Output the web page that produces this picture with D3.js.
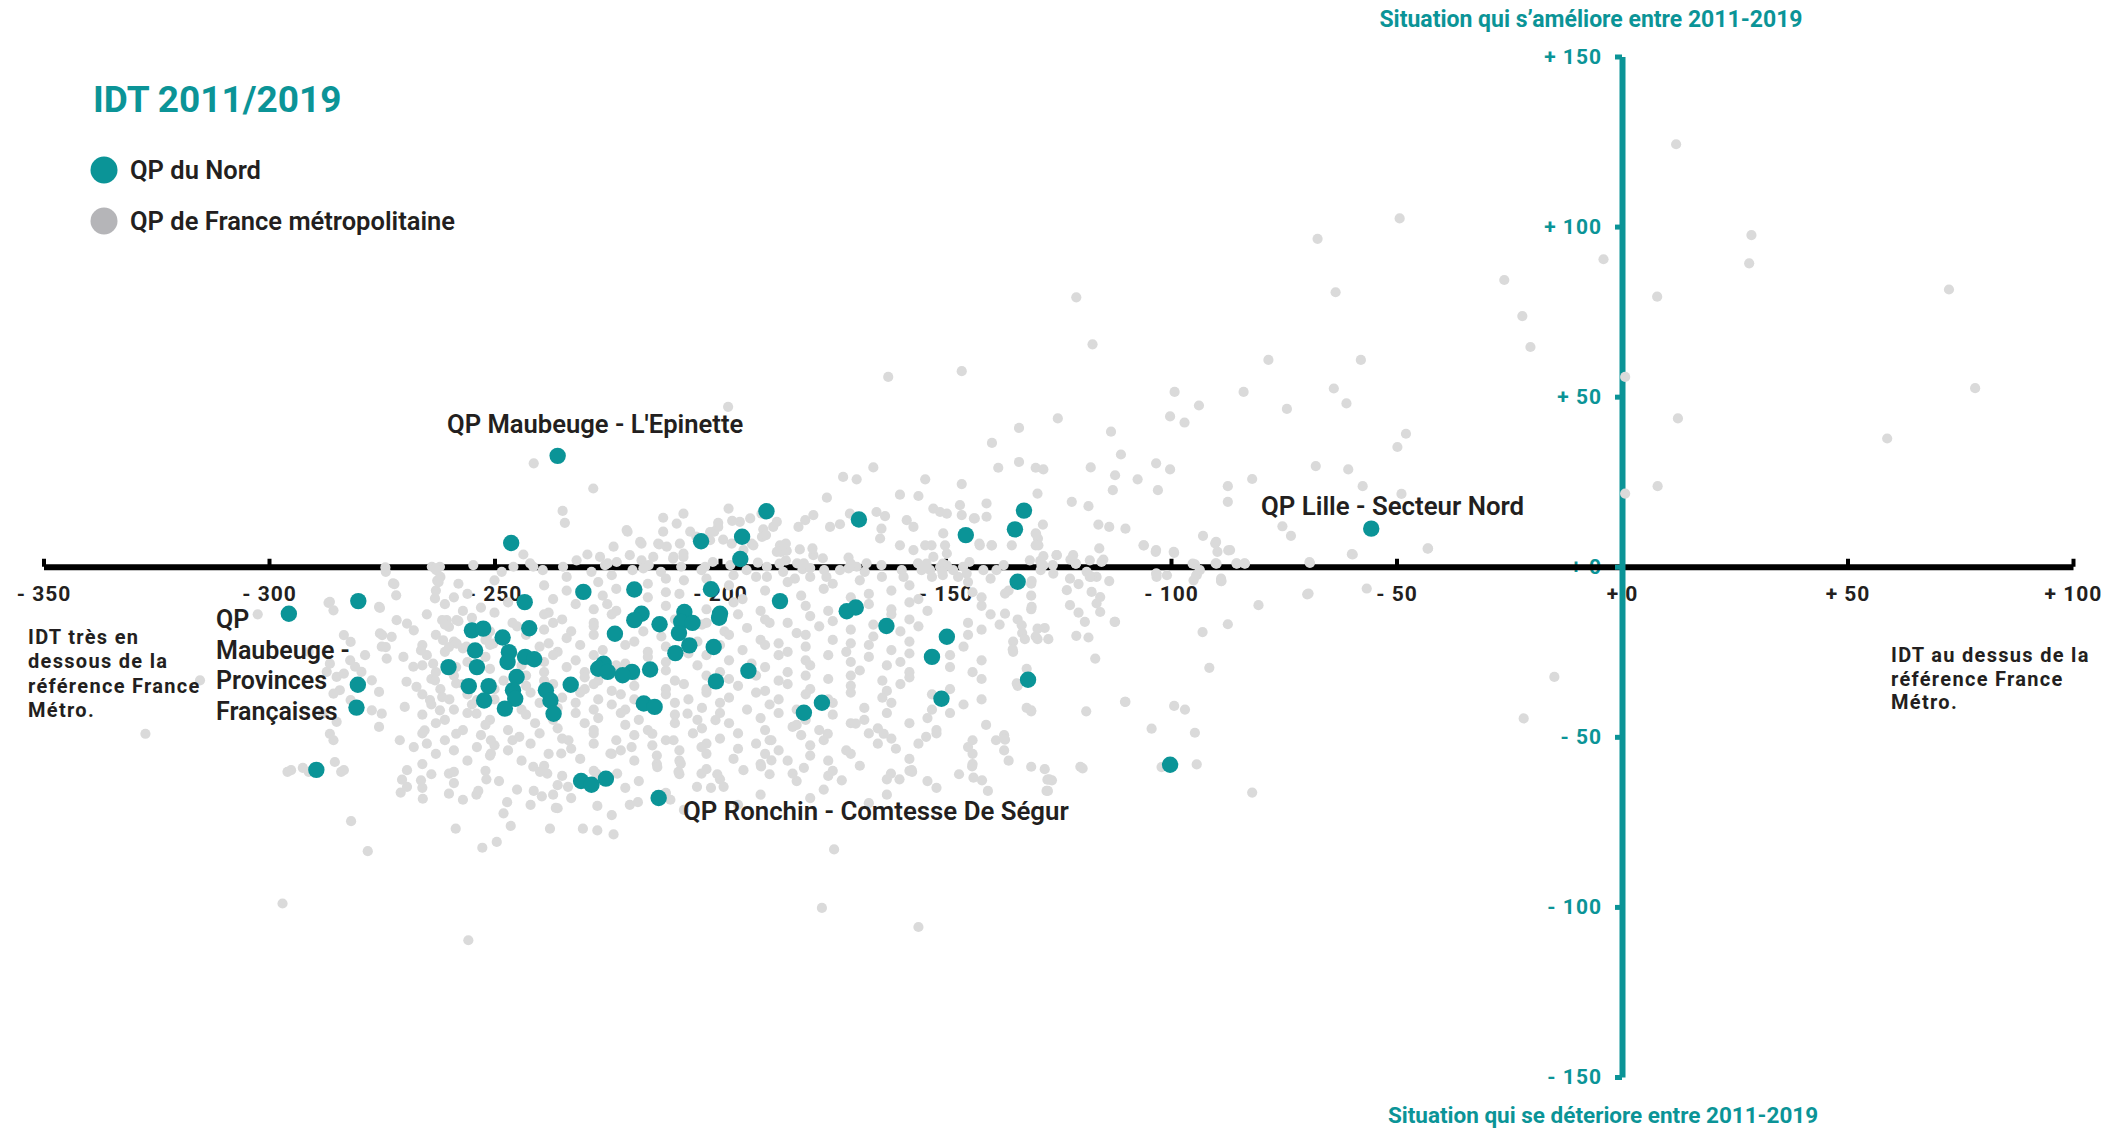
<!DOCTYPE html>
<html><head><meta charset="utf-8">
<script src="https://cdn.jsdelivr.net/npm/d3@7"></script>
<style>
html,body{margin:0;padding:0;background:#fff;}
svg{display:block;font-family:Roboto,"Noto Sans",sans-serif;}
</style></head><body>
<svg id="chart" width="2121" height="1131"></svg>
<script>
const chartTitle = "IDT 2011/2019";
const seriesNames = ["QP du Nord", "QP de France métropolitaine"];
const xTicks = [-350, -300, -250, -200, -150, -100, -50, 0, 50, 100];
const xTickLabels = ["- 350", "- 300", "- 250", "- 200", "- 150", "- 100", "- 50", "+ 0", "+ 50", "+ 100"];
const yTicks = [150, 100, 50, 0, -50, -100, -150];
const yTickLabels = ["+ 150", "+ 100", "+ 50", "+ 0", "- 50", "- 100", "- 150"];
const topNote = "Situation qui s’améliore entre 2011-2019";
const bottomNote = "Situation qui se déteriore entre 2011-2019";
const leftNote = ["IDT très en", "dessous de la", "référence France", "Métro."];
const rightNote = ["IDT au dessus de la", "référence France", "Métro."];

// QP du Nord  [IDT gap, evolution 2011-2019]
const nordPoints = [
[-236,32.6],[-246.3,7],[-189.7,16.3],[-169.2,13.9],[-204.2,7.5],[-195.1,8.8],[-195.5,2.3],[-145.5,9.3],
[-134.6,11],[-132.6,16.5],[-134,-4.4],[-55.6,11.2],[-100.2,-58.2],[-280.2,-10.1],[-295.6,-13.8],[-280.3,-34.7],
[-280.6,-41.4],[-289.5,-59.7],[-230.3,-7.4],[-219,-6.7],[-202,-6.6],[-243.3,-10.4],[-186.7,-10.1],[-171.9,-13.1],
[-169.9,-12],[-200,-13.8],[-200.2,-15],[-207.9,-13.3],[-217.4,-13.8],[-219,-15.7],[-213.4,-16.9],[-163.1,-17.4],
[-208.6,-16.2],[-206.1,-16.5],[-255,-18.7],[-252.5,-18.2],[-242.3,-18.1],[-248.2,-20.8],[-223.3,-19.7],[-209.1,-19.5],
[-206.8,-23.1],[-201.4,-23.6],[-209.9,-25.4],[-149.7,-20.6],[-153,-26.5],[-131.7,-33.2],[-150.9,-38.8],[-177.4,-40],
[-181.4,-42.9],[-193.7,-30.6],[-200.9,-33.7],[-215.5,-30.2],[-219.5,-30.9],[-221.6,-31.9],[-225.8,-28.5],[-227,-30],
[-224.9,-30.9],[-233.1,-34.7],[-238.6,-36.3],[-237.6,-39.3],[-236.9,-43.2],[-216.9,-40.2],[-214.5,-41.2],[-260.2,-29.5],
[-254.3,-24.6],[-253.9,-29.5],[-255.7,-35.1],[-251.3,-35.1],[-252.3,-39.3],[-246.8,-25.1],[-247.1,-28],[-243.2,-26.5],
[-241.2,-27.2],[-245.1,-32.4],[-245.9,-36.3],[-245.4,-38.8],[-247.7,-41.7],[-230.8,-63],[-228.5,-64.1],[-225.3,-62.3],
[-213.6,-68]
];

// QP de France métropolitaine
const francePoints = [
// upper outliers
[12,124.2],[-49.3,102.4],[-67.5,96.4],[28.7,97.5],[28.2,89.2],[-4.1,90.4],[-26.1,84.3],[-63.5,80.7],[7.8,79.4],[72.5,81.5],
[-121,79.2],[-22.1,73.7],[-117.4,65.4],[-20.3,64.6],[-78.4,60.8],[-57.9,60.8],[-146.4,57.5],[-162.7,55.8],[0.7,55.8],[78.3,52.5],
[-63.9,52.4],[-61.1,48],[-74.3,46.4],[-83.9,51.4],[-99.2,51.4],[-93.8,47.4],[-100.2,44.2],[-97,42.4],[-125.1,43.6],[-133.7,40.8],
[-113.3,39.7],[-47.9,39.1],[-49.8,35.2],[12.4,43.6],[58.8,37.7],[0.7,21.5],[7.9,23.7],[-198.2,47],[-139.7,36.4],[-111.1,33],
[-133.7,30.8],[-130,29.1],[-128.3,28.6],[-117.8,29.2],[-103.3,30.4],[-100.2,28.6],[-112.4,26.9],[-107.4,25.7],[-112.9,22.5],[-102.9,22.5],
[-129.6,21.5],[-122,19.1],[-118.3,17.8],[-67.9,29.6],[-82,25.8],[-60.7,28.6],[-87.4,23.7],[-57.5,23.7],[-48.9,21.4],[-87.4,19.1],
[-128.4,12.4],[-116.1,12.4],[-113.7,11.7],[-110.1,11.2],[-75.3,11.9],[-73.4,9.1],[-92.9,9.1],[-90.2,6.9],[-89.7,4.4],[-86.9,4.9],
[-106.1,6.3],[-103.3,4.9],[-99.3,4.1],[-115.9,5.4],[-115,2.1],[-122.3,2.1],[-121.1,0.9],[-125.3,3.4],[-128.3,3.1],[-130,9.8],
[-129.5,8.3],[-130,6.3],[-135.3,6.3],[-43,5.4],[-59.7,3.6],[-69.3,1.4],[-94.7,0.7],[-90.1,1],[-85.5,1],[-83.7,1],
[-128.7,0.4],[-103.3,-2],[-94.4,-2.5],[-88.9,-3.5],[-117.8,-2.8],
// band just above the axis
[-138.3,29.1],[-166,29.2],[-172.7,26.4],[-169.7,25.7],[-154.5,25.7],[-146.4,24.3],[-176.3,20.3],[-160.1,21.2],[-156,20.8],[-140.9,18.6],
[-146.8,18.1],[-152.7,17.1],[-151.2,16.1],[-149.7,15.6],[-165.3,16.1],[-163.4,14.9],[-158.6,13.7],[-157.1,11.7],[-164.2,11.2],[-164.5,8.3],
[-140.9,14.7],[-146.4,15.2],[-143.5,14.2],[-129.9,9.6],[-129.4,6.3],[-125.4,3.4],[-121.7,3.4],[-118,1.9],[-182.6,11.7],[-181.1,13.7],
[-179.3,15.2],[-175.6,11.7],[-173.4,12.5],[-171.2,15.6],[-160.1,6.3],[-157.1,4.9],[-154.5,6.3],[-153.1,6.3],[-150.5,9.8],[-150.1,6.3],
[-149.7,3.9],[-142.4,6.3],[-139.8,6.3],[-190.8,15.6],[-193.3,14.2],[-195.6,13.2],[-187.4,13.2],[-188.2,11.7],[-190.4,11],[-200.4,11.7],
[-201.3,10.3],[-198.1,17.1],[-197.4,6.8],[-202.2,7.8],[-192.6,6.3],[-194.8,4.9],[-186.7,6.3],[-185.2,4.7],[-182.3,5.1],[-179.3,3.4],
[-208.1,15.6],[-209.6,12.7],[-206.6,10.3],[-205.2,8.8],[-213.7,6.8],[-211.8,5.9],[-217.7,7.3],[-220.7,10.8],[-212.6,10.3],[-220,3.4],
[-226.6,2.9],[-223.6,5.9],[-214.8,2.9],[-210.3,2.9],[-208.1,3.9],[-222.9,1.4],[-217.4,1.9],[-151.2,-0.1],[-149.7,0.4],[-173.4,-1],
[-169.7,0],[-167.5,1],[-177.2,2.5],[-179.5,5.4],[-185.4,6.8],[-186.5,4.4],[-182.9,1],[-181.7,-0.7],[-180,-0.4],[-190.7,8.8],
[-189.8,9.3],[-197.3,13.5],[-200.4,12.9],[-202.2,10.2],[-199.3,8],[-193,6.8],[-195.6,1.9],[-191.6,1.2],[-187.4,4.4],[-185.4,1.9],
[-186.8,0.9],[-201.6,1.4],[-203.3,0],[-150.6,0.9],[-150.6,-2.5],[-154.2,0.9],[-155.3,-1],[-152.7,2.9],[-153.4,-1],[-148.3,-1],
[-147.2,-3],[-145.3,-2],[-144.7,1.4],[-131.3,1.9],[-129,1.7],[-126.1,-2],[-122.4,-3.5],[-118.7,-1.5],[-116.5,-3],[-103.2,-3],
[-100.9,-2.5],[-95.2,0.9],[-171.5,2.7],[-171,0.9],[-138.7,-1],[-117.7,-3],[-143.7,14.2],[-142.5,6.8],[-139.7,6.3],
[-241.3,30.4],[-228.1,23],[-234.9,16.4],[-234.4,12.9],[-212.6,14.4],[-220.5,10.3],[-217.4,6.8],[-213.5,6.6],[-208.9,6.8],[-205.2,8.8],
[-243.6,3.6],[-241.4,0],[-229.4,3.6],[-231.8,1.9],[-225.5,0.5],[-210.4,2.4],[-217,-0.5],[-245.8,0],[-274.2,-0.2],[-263.9,0],
[-262.1,0],[-208.1,2.9],
// on the axis
[-262.9,-1],[-254.7,0.5],[-248.4,-1.5],[-242.1,1],[-239.3,-1],[-234.8,0],[-228.5,-1.5],[-224.9,1],[-219.4,-1],[-215.8,0.5],
[-213.1,-1.5],[-208.6,0],[-204.1,-1],[-197.7,0.5],[-194.1,-1],[-189.6,0],[-186,-1.5],[-181.4,1],[-176.9,-1],[-171.5,-0.5],
[-167.9,-1.5],[-164.2,0.5],[-159.7,-1],[-156.1,1],[-150.7,-1.5],[-146.1,0],[-141.6,-1],[-137.1,0.5],[-128.9,-1],[-126.2,0.5],
[-159.3,-3],[-164.1,-3],[-176.4,-3],[-183.4,-3.5],[-189.6,-3],[-197,-2.5],[-203,-3.5],
// dense core
[-262,-3],[-258,-5],[-250,-4],[-239,-5.5],[-234,-3],[-227,-4.5],[-224,-2.5],[-216,-5],[-212,-3.5],[-208,-4],[-198,-5.5],[-192,-3],[-185,-4.5],[-180,-3],[-175,-5],[-169,-4],[-158,-5.5],[-153,-3],[-145,-4.5],[-140,-3.5],[-131,-5],
[-263,-7],[-259,-9],[-256,-8],[-237,-9.5],[-234,-7],[-226,-8.5],[-223,-6.5],[-216,-9],[-212,-7.5],[-209,-8],[-195,-9.5],[-190,-7],[-182,-8.5],[-177,-6.5],[-171,-9],[-167,-8],[-162,-7],[-156,-9.5],[-144,-7.5],[-142,-9],[-136,-7],[-131,-8.5],
[-261,-11],[-257,-13],[-253,-12],[-247,-10.5],[-238,-13.5],[-232,-11],[-228,-12.5],[-225,-11],[-223,-13],[-212,-11.5],[-203,-12.5],[-197,-10.5],[-191,-13],[-181,-11.5],[-176,-13],[-167,-11],[-162,-12.5],[-158,-10.5],[-154,-13],[-142,-11.5],[-131,-12.5],
[-265,-14],[-258,-16],[-255,-15],[-250,-13.5],[-246,-16.5],[-239,-14],[-235,-15.5],[-228,-16.5],[-224,-14],[-210,-15.5],[-203,-16.5],[-196,-14],[-190,-15.5],[-185,-16.5],[-180,-14.5],[-175,-16],[-162,-14],[-158,-15.5],[-145,-16.5],[-140,-14],[-134,-15.5],
[-261,-17],[-251,-19],[-245,-17.5],[-239,-18.5],[-237,-16.5],[-233,-19],[-228,-17.5],[-217,-19],[-204,-17],[-199,-19],[-194,-18],[-189,-16.5],[-183,-19.5],[-178,-17.5],[-171,-18.5],[-166,-17],[-160,-19],[-156,-17.5],[-142,-18.5],[-138,-17],[-133,-19.5],[-128,-18],
[-263,-20],[-259,-22],[-252,-21.5],[-243,-20],[-238,-22.5],[-234,-21],[-228,-20],[-219,-22],[-213,-20.5],[-205,-22],[-198,-20],[-191,-21.5],[-187,-22.5],[-181,-20],[-175,-21.5],[-171,-22.5],[-166,-20.5],[-158,-22],[-145,-20],[-135,-22],[-130,-20.5],
[-266,-23],[-261,-25],[-257,-24],[-251,-23],[-246,-25.5],[-240,-23.5],[-236,-25],[-231,-23],[-226,-24.5],[-221,-23],[-216,-25],[-212,-23.5],[-207,-25.5],[-200,-23],[-195,-24.5],[-190,-23],[-185,-25],[-181,-23.5],[-172,-25],[-167,-23],[-162,-24.5],[-158,-25.5],[-146,-23.5],[-135,-25],
[-265,-26],[-256,-28],[-252,-26.5],[-239,-28],[-237,-26],[-232,-27.5],[-228,-26],[-221,-28.5],[-216,-26.5],[-212,-28],[-203,-26],[-198,-27.5],[-193,-28.5],[-187,-26],[-181,-27.5],[-176,-26],[-171,-28],[-167,-26.5],[-160,-28],[-149,-26],[-142,-27.5],
[-266,-29],[-263,-31],[-251,-30],[-244,-29],[-239,-31],[-234,-29.5],[-230,-31],[-223,-29],[-212,-30.5],[-205,-29],[-200,-31],[-190,-29.5],[-185,-31],[-180,-29],[-169,-30.5],[-163,-29],[-158,-31],[-149,-29.5],[-144,-31],
[-264,-33],[-259,-32],[-248,-33.5],[-243,-32],[-239,-33.5],[-230,-32.5],[-227,-33.5],[-219,-32],[-210,-33.5],[-203,-32],[-198,-33],[-192,-32],[-187,-33.5],[-181,-32],[-176,-33],[-171,-32],[-164,-33.5],[-158,-32.5],[-142,-33],
[-262,-36],[-257,-34.5],[-250,-36],[-243,-35],[-237,-34.5],[-230,-36],[-228,-34.5],[-224,-36.5],[-219,-35],[-212,-36],[-208,-34.5],[-203,-36],[-196,-35],[-190,-36.5],[-185,-34.5],[-180,-36],[-171,-35],[-163,-36.5],[-160,-34.5],[-149,-36],[-134,-35],
[-266,-37.5],[-260,-39],[-256,-37.5],[-250,-39],[-242,-37],[-235,-38.5],[-231,-37],[-227,-39],[-222,-37.5],[-219,-39],[-212,-37.5],[-207,-39],[-203,-37],[-198,-38.5],[-192,-37],[-187,-39],[-181,-37.5],[-176,-39],[-171,-37],[-164,-38.5],[-153,-37.5],[-142,-39],
[-264,-40.5],[-259,-42],[-255,-40.5],[-244,-42],[-240,-40],[-236,-41.5],[-232,-40],[-228,-42],[-224,-40.5],[-221,-42],[-210,-40],[-204,-41.5],[-200,-40],[-194,-42],[-189,-40.5],[-183,-42],[-175,-40],[-168,-41.5],[-162,-40],[-153,-42],[-146,-40.5],[-132,-41.5],
[-266,-43.5],[-261,-45],[-256,-43],[-251,-45],[-243,-43.5],[-237,-45],[-232,-43],[-227,-44.5],[-222,-43],[-218,-45],[-210,-43.5],[-205,-45],[-200,-43],[-191,-44.5],[-187,-43],[-181,-45],[-175,-43.5],[-168,-45],[-163,-43],[-154,-44.5],[-149,-43],
[-263,-46],[-257,-48],[-252,-46.5],[-247,-48],[-241,-46],[-236,-47.5],[-230,-46],[-228,-48],[-221,-46.5],[-216,-48],[-210,-46],[-204,-47.5],[-198,-46],[-190,-48],[-183,-46.5],[-178,-48],[-171,-46],[-165,-47.5],[-158,-46],[-152,-48],[-141,-46.5],
[-266,-49],[-261,-51],[-253,-49.5],[-246,-51],[-240,-49],[-235,-50.5],[-228,-49],[-223,-51],[-219,-49.5],[-212,-51],[-206,-49],[-200,-50.5],[-196,-49],[-189,-51],[-182,-49.5],[-177,-51],[-167,-49],[-162,-50.5],[-152,-49],[-144,-51],[-137,-49.5],
[-265,-52],[-259,-54],[-250,-52.5],[-247,-54],[-242,-52],[-233,-53.5],[-228,-52],[-222,-54],[-215,-52.5],[-209,-54],[-203,-52],[-196,-53.5],[-192,-52],[-187,-54],[-180,-52.5],[-172,-54],[-165,-52],[-161,-53.5],[-156,-52],[-137,-54],
[-263,-55],[-256,-57],[-251,-55.5],[-244,-57],[-238,-55],[-231,-56.5],[-224,-55],[-219,-57],[-214,-55.5],[-209,-57],[-203,-55],[-197,-56.5],[-190,-55],[-185,-57],[-180,-55.5],[-176,-57],[-171,-55],[-158,-56.5],[-144,-55],[-136,-57],
[-266,-58],[-252,-60],[-239,-58.5],[-228,-60],[-214,-58],[-203,-59.5],[-191,-58],[-175,-60],[-169,-58.5],[-158,-60],[-144,-58],[-128,-59.5],
[-264,-61],[-249,-63],[-235,-61.5],[-218,-63],[-209,-61],[-200,-62.5],[-189,-61],[-183,-63],[-176,-61.5],[-154,-63],[-147,-61],
[-266,-65],[-254,-67],[-245,-65.5],[-237,-67],[-221,-65],[-212,-66.5],[-202,-65],[-191,-67],[-177,-65.5],[-163,-67],[-152,-65],
[-257,-68.5],[-242,-70],[-233,-68],[-220,-70],[-211,-68.5],[-196,-70],[-180,-68],[-167,-69.5],
[-248,-72.5],[-236,-71],[-224,-73],[-208,-71.5],
// left edge
[-272.2,-5.1],[-262.7,-4.1],[-263.2,-9.3],[-286.8,-10.6],[-275.4,-12.1],[-302.5,-14],[-275.4,-19.6],[-272.8,-20.6],[-282,-27.5],[-280.9,-29.4],
[-287.2,-30.9],[-285,-32.4],[-284.3,-36.3],[-275,-23.5],[-273.9,-27],[-270.2,-26.5],[-268,-29.4],[-269.5,-33.8],[-267.3,-35.3],[-260.6,-15.7],
[-258.4,-15.7],[-258.4,-22.6],[-256.2,-23.5],[-263.6,-28.5],[-261.4,-21.6],[-251.7,-20.6],[-250.3,-22.6],[-264.3,-39.2],[-262.1,-42.2],[-269.9,-41.2],
[-275,-43.2],[-254,-43.2],[-315.3,-33.4],[-274.1,-1.5],[-272.5,-4.9],[-271.8,-8.4],[-263.2,-0.5],[-262.4,-4.5],[-286.5,-10.3],[-285.7,-12.8],
[-275.6,-11.8],[-271.7,-15.7],[-269.4,-16.7],[-267.9,-18.7],[-261.6,-15.7],[-260.1,-17.7],[-283.4,-20.1],[-281.9,-22.1],[-274.9,-20.1],[-274.1,-23.6],
[-278.7,-26],[-286.5,-28.5],[-283.4,-31.4],[-291.2,-25],[-279.5,-30.9],[-277.2,-33.4],[-275.6,-36.8],[-285.7,-37.3],[-281.9,-39.2],[-288.1,-43.2],
[-285,-45.6],[-286.5,-49.1],[-285.7,-51],[-277.2,-42.2],[-275.6,-47.1],[-271,-51],[-267.9,-53],[-327.4,-49.1],[-295.1,-59.8],[-291.2,-60.3],
[-283.4,-59.8],[-269.4,-59.8],[-260.1,-60.8],[-266.3,-62.8],[-269.4,-64.7],[-260.1,-66.7],[-250.8,-54.9],[-253.9,-53],[-241.4,-58.8],[-238.3,-60.8],
[-265.5,-48.1],[-258.5,-49.1],[-250.8,-51],[-263.2,-33.4],[-258.5,-34.3],[-250.8,-34.3],[-261.6,-38.3],[-253.9,-39.2],[-266.3,-24.6],[-260.1,-23.6],
[-258.5,-29.5],[-244.5,-50],[-235.2,-54.9],[-233.6,-51],[-224.3,-54.9],[-222.8,-60.8],[-227.4,-60.8],[-219.6,-53],[-215,-49.1],[-210.3,-51],
[-204.1,-53],[-204.1,-60.8],[-194.8,-59.8],[-188.6,-56.9],[-183.9,-60.8],[-173,-62.8],[-162.1,-60.8],[-157.5,-59.8],[-141.9,-62.8],[-138.8,-51],
[-131,-58.8],[-126.4,-62.8],[-120.1,-58.8],[-131,-42.2],[-207.2,-43.2],[-201,-45.1],[-188.6,-51],[-183.9,-47.1],[-176.1,-49.1],[-169.9,-46.1],
[-163.7,-49.1],[-154.3,-50],[-145,-53],
// lower tail
[-295.9,-60.3],[-292.5,-59.1],[-285.4,-57.4],[-284,-60.3],[-270.5,-62.6],[-270.8,-66.4],[-265.9,-68.2],[-281.8,-74.8],[-278.1,-83.6],[-259,-60.3],
[-259,-63.6],[-251.8,-62.5],[-253.6,-65.9],[-258.6,-77],[-246.4,-76.2],[-247.2,-69.2],[-252.7,-82.6],[-249.5,-80.9],[-239.9,-60.3],[-241.3,-65.9],
[-239.5,-67.5],[-236,-64.2],[-233.7,-64.7],[-236.4,-70.9],[-237.7,-77],[-230.4,-77],[-227.2,-77.5],[-223.6,-78.7],[-227.2,-70.3],[-218.2,-69.2],
[-213.9,-58.9],[-209.2,-60.3],[-208.7,-57.9],[-205.1,-64.7],[-199.2,-64.7],[-200.6,-61],[-190.9,-58.7],[-181.4,-59.1],[-163,-62.5],[-160.2,-62.5],
[-157.4,-60.3],[-144.1,-58.7],[-143.8,-62],[-140.6,-65.9],[-127.4,-62.6],[-127.6,-65.9],[-174.7,-83.1],[-177.4,-100.3],[-156,-105.9],[-255.8,-109.8],
[-297,-99],
// right of the core
[-128.3,0.4],[-121.1,0.9],[-115.4,1.4],[-103.2,-2],[-94.3,-2.5],[-93.6,-1],[-89.9,0.9],[-85.4,0.9],[-83.6,0.9],[-69.2,1.1],
[-56.6,-6.4],[-69.8,-8.1],[-80.6,-11.3],[-87.4,-16.9],[-93,-19.2],[-91.5,-29.7],[-88.8,-4.2],[-95,-4],[-130.9,-4.2],[-123.1,-6.9],
[-120.5,-5.1],[-118,-3],[-117.6,-7.4],[-115.7,-8.9],[-116.5,-10.8],[-115.7,-13.3],[-122.4,-11.3],[-120.5,-13.5],[-119.1,-16.2],[-112.4,-16.2],
[-130.9,-11.8],[-136.8,-7.9],[-136.8,-13.8],[-133.1,-17.2],[-129.6,-18.2],[-132.4,-21.3],[-129.6,-21.3],[-127.2,-21.3],[-121,-20.3],[-118.3,-20.8],
[-135.1,-24.3],[-116.8,-27],[-132,-30],[-134.2,-34.3],[-131,-42.5],[-118.8,-42.5],[-110.2,-39.7],[-99.3,-40.9],[-96.9,-42],[-104.3,-47.6],
[-94.7,-48.8],[-136.8,-50.8],[-119.6,-59.3],[-127,-62.5],[-127.3,-65.9],[-94.3,-58.1],[-82,-66.4],[-102.1,-58.9],
[-106,6.3],[-103.4,4.4],[-99.4,4.4],[-90,7.3],[-87.3,4.8],[-59.9,3.7],[-43.1,5.3],[-113.7,-4.2],[-88.9,-4.2],[-69.5,-7.9],
[-112.5,-16.2],[-15,-32.4],[-110.1,-39.7],[-21.8,-44.6]
];

const TEAL = "#0b9497";
const DOT_GRAY = "#dadada";
const LEGEND_GRAY = "#b5b5b8";
const DARK = "#231f20";

const svg = d3.select("#chart");
svg.append("rect").attr("width", 2121).attr("height", 1131).attr("fill", "#fff");

const x = d3.scaleLinear().domain([-350, 100]).range([43.5, 2073]);
const y = d3.scaleLinear().domain([-150, 150]).range([1077, 56.5]);
const X0 = x(0), Y0 = y(0);

// y tick labels (behind the axis lines)
const yLab = svg.append("g").attr("transform", `translate(${X0},0)`)
  .call(d3.axisLeft(y).tickValues(yTicks).tickSize(0).tickPadding(20)
    .tickFormat((d, i) => yTickLabels[i]));
yLab.attr("font-family", null).attr("font-size", null);
yLab.select(".domain").remove();
yLab.selectAll("text").attr("fill", TEAL).style("font-size", "21px")
  .style("font-weight", 700).style("letter-spacing", "1px");

// x tick labels
const xLab = svg.append("g").attr("transform", `translate(0,${Y0})`)
  .call(d3.axisBottom(x).tickValues(xTicks).tickSize(0).tickPadding(19)
    .tickFormat((d, i) => xTickLabels[i]));
xLab.attr("font-family", null).attr("font-size", null);
xLab.select(".domain").remove();
xLab.selectAll("text").attr("fill", DARK).style("font-size", "21px")
  .style("font-weight", 700).style("letter-spacing", "1px");

// x axis line
const xAx = svg.append("g").attr("transform", `translate(0,${Y0})`)
  .call(d3.axisTop(x).tickValues(xTicks).tickSize(8).tickSizeOuter(0).tickFormat(""));
xAx.select(".domain").attr("stroke", "#000").attr("stroke-width", 6);
xAx.selectAll(".tick line").attr("stroke", "#000").attr("stroke-width", 4);

// y axis line
const yAx = svg.append("g").attr("transform", `translate(${X0},0)`)
  .call(d3.axisLeft(y).tickValues(yTicks).tickSize(7).tickSizeOuter(0).tickFormat(""));
yAx.select(".domain").attr("stroke", TEAL).attr("stroke-width", 6);
yAx.selectAll(".tick line").attr("stroke", TEAL).attr("stroke-width", 5);

// points
svg.append("g").selectAll("circle").data(francePoints).join("circle")
  .attr("cx", d => x(d[0])).attr("cy", d => y(d[1])).attr("r", 5.1).attr("fill", DOT_GRAY);
svg.append("g").selectAll("circle").data(nordPoints).join("circle")
  .attr("cx", d => x(d[0])).attr("cy", d => y(d[1])).attr("r", 8.2).attr("fill", TEAL);

// title & legend
svg.append("text").attr("x", 93).attr("y", 112).text(chartTitle)
  .attr("fill", TEAL).style("font-size", "37px").style("font-weight", 700);
const legend = svg.append("g");
[TEAL, LEGEND_GRAY].forEach((c, i) => {
  legend.append("circle").attr("cx", 104).attr("cy", 170 + i * 51).attr("r", 13.5).attr("fill", c);
  legend.append("text").attr("x", 130).attr("y", 179 + i * 51).text(seriesNames[i])
    .attr("fill", DARK).style("font-size", "25.5px").style("font-weight", 600);
});

// axis direction notes
svg.append("text").attr("x", 1591).attr("y", 27).attr("text-anchor", "middle").text(topNote)
  .attr("fill", TEAL).style("font-size", "23px").style("font-weight", 700);
svg.append("text").attr("x", 1603).attr("y", 1123).attr("text-anchor", "middle").text(bottomNote)
  .attr("fill", TEAL).style("font-size", "22.5px").style("font-weight", 700);

function block(lines, x0, y0, lh, size, weight, ls) {
  const t = svg.append("text").attr("fill", DARK).style("font-size", size + "px")
    .style("font-weight", weight).style("letter-spacing", ls);
  lines.forEach((l, i) => t.append("tspan").attr("x", x0).attr("y", y0 + i * lh).text(l));
}
block(leftNote, 28, 644, 24.3, 20, 700, "1.3px");
block(rightNote, 1891, 662, 23.5, 20, 700, "1.3px");

// annotations
block(["QP Maubeuge - L'Epinette"], 447, 433, 0, 25.6, 600, "0px");
block(["QP Lille - Secteur Nord"], 1261, 515, 0, 25.8, 600, "0px");
block(["QP Ronchin - Comtesse De Ségur"], 683, 820, 0, 25.8, 600, "0px");
block(["QP", "Maubeuge -", "Provinces", "Françaises"], 216, 628, 30.7, 25, 600, "0px");
</script>
</body></html>
